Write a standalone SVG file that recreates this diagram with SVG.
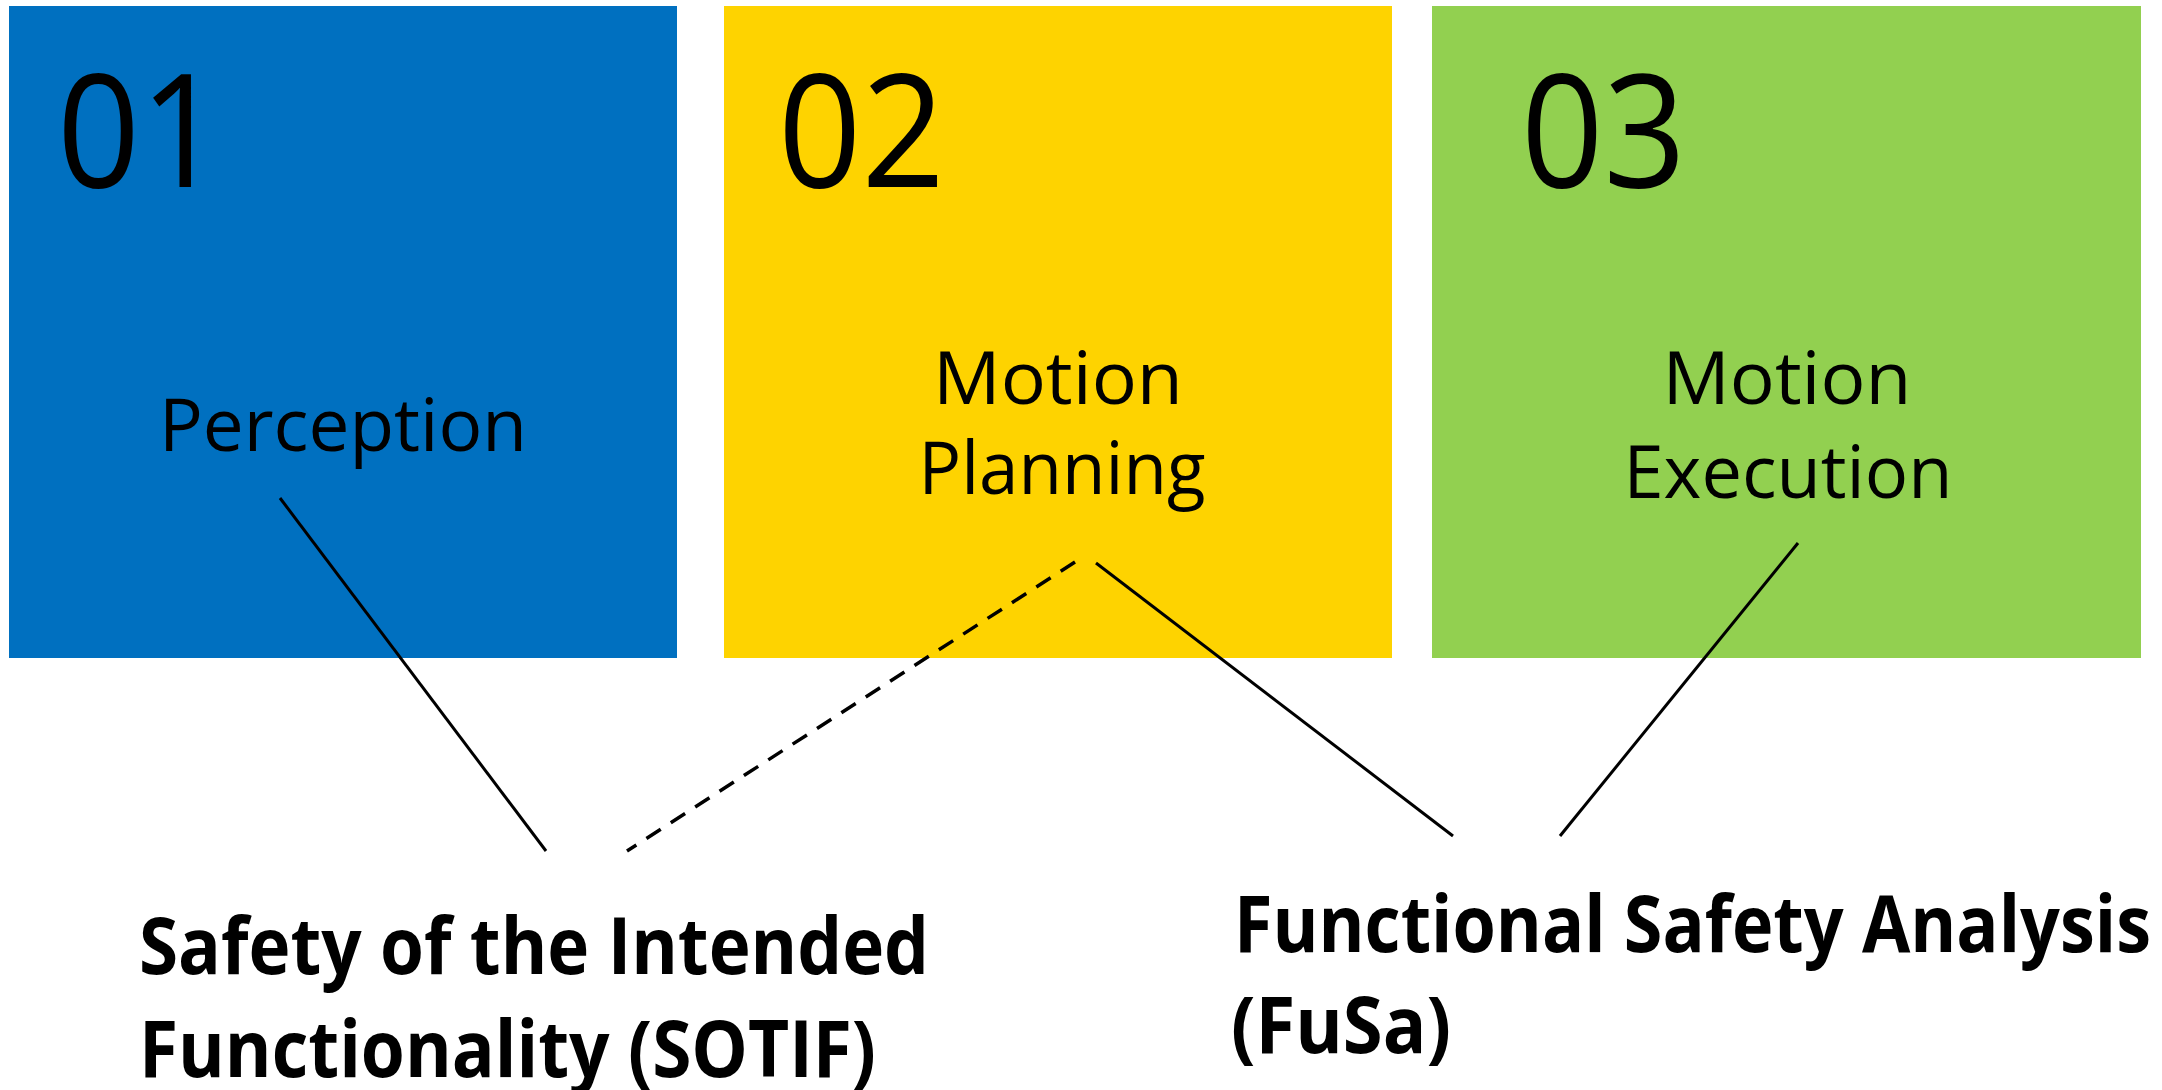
<svg xmlns="http://www.w3.org/2000/svg" width="2162" height="1090" viewBox="0 0 2162 1090">
  <style>
    .num { font-family: "Open Sans", "Noto Sans", sans-serif; font-size: 158px; fill: #000; }
    .lbl { font-family: "Open Sans", "Noto Sans", sans-serif; font-size: 73px; fill: #000; }
    .cap { font-family: "Open Sans", "Noto Sans", sans-serif; font-size: 78px; font-weight: bold; fill: #000; }
    .link { stroke: #000; stroke-width: 3; fill: none; }
    .dash { stroke-width: 3.5; stroke-dasharray: 17 12; }
  </style>
  <rect width="2162" height="1090" fill="#fff"/>

  <!-- stage 01 -->
  <g id="perception">
    <rect x="9" y="6" width="668" height="652" fill="#0070C0"/>
    <text class="num" x="57" y="187" textLength="166" lengthAdjust="spacingAndGlyphs">01</text>
    <text class="lbl" x="159" y="451" textLength="368" lengthAdjust="spacingAndGlyphs">Perception</text>
  </g>

  <!-- stage 02 -->
  <g id="motion-planning">
    <rect x="724" y="6" width="668" height="652" fill="#FED300"/>
    <text class="num" x="778" y="187" textLength="167" lengthAdjust="spacingAndGlyphs">02</text>
    <text class="lbl" x="1058" y="404" text-anchor="middle" textLength="250" lengthAdjust="spacingAndGlyphs">Motion</text>
    <text class="lbl" x="1062" y="494" text-anchor="middle" textLength="287" lengthAdjust="spacingAndGlyphs">Planning</text>
  </g>

  <!-- stage 03 -->
  <g id="motion-execution">
    <rect x="1432" y="6" width="709" height="652" fill="#92D050"/>
    <text class="num" x="1521" y="187" textLength="165" lengthAdjust="spacingAndGlyphs">03</text>
    <text class="lbl" x="1787" y="404" text-anchor="middle" textLength="249" lengthAdjust="spacingAndGlyphs">Motion</text>
    <text class="lbl" x="1788" y="498" text-anchor="middle" textLength="329" lengthAdjust="spacingAndGlyphs">Execution</text>
  </g>

  <!-- safety standards -->
  <g id="sotif">
    <text class="cap" x="139" y="974" textLength="790" lengthAdjust="spacingAndGlyphs">Safety of the Intended</text>
    <text class="cap" x="139" y="1077" textLength="737" lengthAdjust="spacingAndGlyphs">Functionality (SOTIF)</text>
  </g>
  <g id="fusa">
    <text class="cap" x="1234" y="952" textLength="917" lengthAdjust="spacingAndGlyphs">Functional Safety Analysis</text>
    <text class="cap" x="1231" y="1053" textLength="220" lengthAdjust="spacingAndGlyphs">(FuSa)</text>
  </g>

  <!-- connectors -->
  <g id="connectors">
    <line class="link" x1="280" y1="498" x2="546" y2="851"/>
    <line class="link dash" x1="1075" y1="562" x2="627" y2="851"/>
    <line class="link" x1="1096" y1="563" x2="1453" y2="836"/>
    <line class="link" x1="1798" y1="543" x2="1560" y2="836"/>
  </g>
</svg>
